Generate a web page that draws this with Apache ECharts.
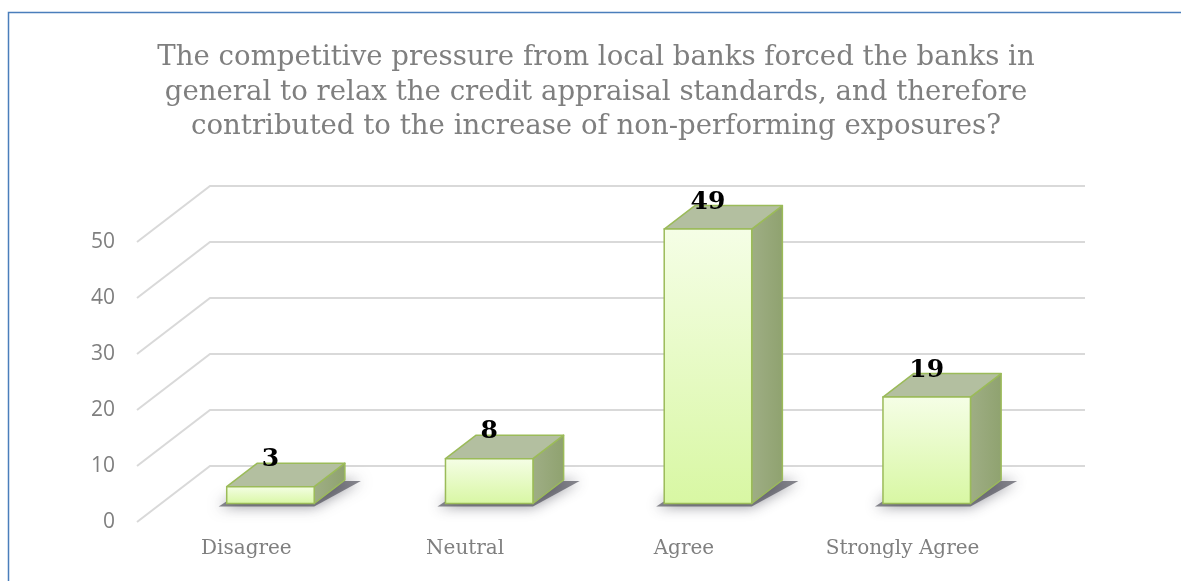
<!DOCTYPE html>
<html>
<head>
<meta charset="utf-8">
<script src="https://cdn.jsdelivr.net/npm/echarts@6/dist/echarts.min.js"></script>
<style>
  html, body { margin: 0; padding: 0; background: #ffffff; }
  #chart { width: 1181px; height: 581px; }
</style>
</head>
<body>
<div id="chart"></div>
<script>
// Survey answers and response counts
const categories = ['Disagree', 'Neutral', 'Agree', 'Strongly Agree'];
const counts = [3, 8, 49, 19];
// Value-axis gridline levels
const gridLevels = [0, 10, 20, 30, 40, 50];

const titleText = 'The competitive pressure from local banks forced the banks in\n' +
  'general to relax the credit appraisal standards, and therefore\n' +
  'contributed to the increase of non-performing exposures?';

// Oblique depth of the plot floor: full depth offset in pixels
const DEPTH_X = 73;
const DEPTH_Y = 56;
// Bar occupies this depth slice of the floor
const BAR_FRONT = 0.33;
const BAR_BACK = 0.75;
const BAR_WIDTH_RATIO = 0.40;

const chart = echarts.init(document.getElementById('chart'), null, { renderer: 'canvas' });

function gridRenderItem(params, api) {
  const cs = params.coordSys;
  const y = api.coord([0, api.value(0)])[1];
  const x0 = cs.x;
  const x1 = cs.x + cs.width;
  return {
    type: 'polyline',
    shape: {
      points: [
        [x0, y],
        [x0 + DEPTH_X, y - DEPTH_Y],
        [x1 + DEPTH_X, y - DEPTH_Y]
      ]
    },
    style: { stroke: '#d9d9d9', lineWidth: 2, fill: null },
    silent: true
  };
}

function barRenderItem(params, api) {
  const idx = api.value(0);
  const v = api.value(1);
  const base = api.coord([idx, 0]);
  const top = api.coord([idx, v]);
  const band = api.size([1, 0])[0];
  const w = band * BAR_WIDTH_RATIO;

  const fx = DEPTH_X * BAR_FRONT, fy = DEPTH_Y * BAR_FRONT;
  const bx = DEPTH_X * (BAR_BACK - BAR_FRONT), by = DEPTH_Y * (BAR_BACK - BAR_FRONT);

  const cx = base[0] + fx;
  const x0 = cx - w / 2, x1 = cx + w / 2;
  const yb = base[1] - fy;
  const yt = top[1] - fy;

  const border = '#9bbb59';

  return {
    type: 'group',
    children: [
      {
        // soft floor shadow
        type: 'polygon',
        shape: { points: [[x0 - 8, yb + 3], [x1, yb + 3], [x1 + bx + 16, yb - by + 1], [x0 + bx, yb - by + 1]] },
        style: { fill: 'rgba(60,60,72,0.6)', shadowBlur: 14, shadowColor: 'rgba(60,60,72,0.9)' },
        silent: true
      },
      {
        // right side face
        type: 'polygon',
        shape: { points: [[x1, yt], [x1 + bx, yt - by], [x1 + bx, yb - by], [x1, yb]] },
        style: {
          fill: new echarts.graphic.LinearGradient(0, 0, 1, 0, [
            { offset: 0, color: '#9fae85' },
            { offset: 1, color: '#8fa26f' }
          ]),
          stroke: border, lineWidth: 1.5, lineJoin: 'round'
        }
      },
      {
        // top face
        type: 'polygon',
        shape: { points: [[x0, yt], [x1, yt], [x1 + bx, yt - by], [x0 + bx, yt - by]] },
        style: { fill: '#b3bfa0', stroke: border, lineWidth: 1.5, lineJoin: 'round' }
      },
      {
        // front face
        type: 'rect',
        shape: { x: x0, y: yt, width: w, height: yb - yt },
        style: {
          fill: new echarts.graphic.LinearGradient(0, 0, 0, 1, [
            { offset: 0, color: '#f5fee6' },
            { offset: 1, color: '#d8f7a3' }
          ]),
          stroke: border, lineWidth: 1.5
        }
      },
      {
        type: 'text',
        x: cx,
        y: yt - 27,
        style: {
          text: String(v),
          fill: '#000000',
          font: 'bold 25px "DejaVu Serif", serif',
          align: 'center',
          verticalAlign: 'middle'
        },
        silent: true
      }
    ]
  };
}

const option = {
  animation: false,
  backgroundColor: '#ffffff',
  title: {
    text: titleText,
    left: 591,
    top: 36,
    textAlign: 'center',
    textStyle: {
      fontFamily: '"DejaVu Serif", serif',
      fontWeight: 'normal',
      fontSize: 27.6,
      lineHeight: 34.5,
      color: '#7f7f7f'
    }
  },
  grid: { left: 137, right: 169, top: 242, bottom: 59, containLabel: false },
  xAxis: {
    type: 'category',
    data: categories,
    axisLine: { show: false },
    axisTick: { show: false },
    splitLine: { show: false },
    axisLabel: {
      margin: 17,
      color: '#7f7f7f',
      fontFamily: '"DejaVu Serif", serif',
      fontSize: 20
    }
  },
  yAxis: {
    type: 'value',
    min: 0,
    max: 50,
    interval: 10,
    axisLine: { show: false },
    axisTick: { show: false },
    splitLine: { show: false },
    axisLabel: {
      margin: 22,
      color: '#7f7f7f',
      fontFamily: '"Open Sans", "Noto Sans", sans-serif',
      fontSize: 21
    }
  },
  graphic: [
    {
      type: 'polyline',
      shape: { points: [[8.5, 581], [8.5, 12.5], [1181, 12.5]] },
      style: { stroke: '#4a7ebb', lineWidth: 1.5, fill: null },
      silent: true,
      z: 100
    }
  ],
  series: [
    {
      type: 'custom',
      name: 'gridlines',
      renderItem: gridRenderItem,
      data: gridLevels.map(v => [v]),
      encode: { y: 0 },
      silent: true,
      z: 1
    },
    {
      type: 'custom',
      name: 'Responses',
      renderItem: barRenderItem,
      data: counts.map((v, i) => [i, v]),
      encode: { x: 0, y: 1 },
      z: 2
    }
  ]
};

chart.setOption(option);
</script>
</body>
</html>
